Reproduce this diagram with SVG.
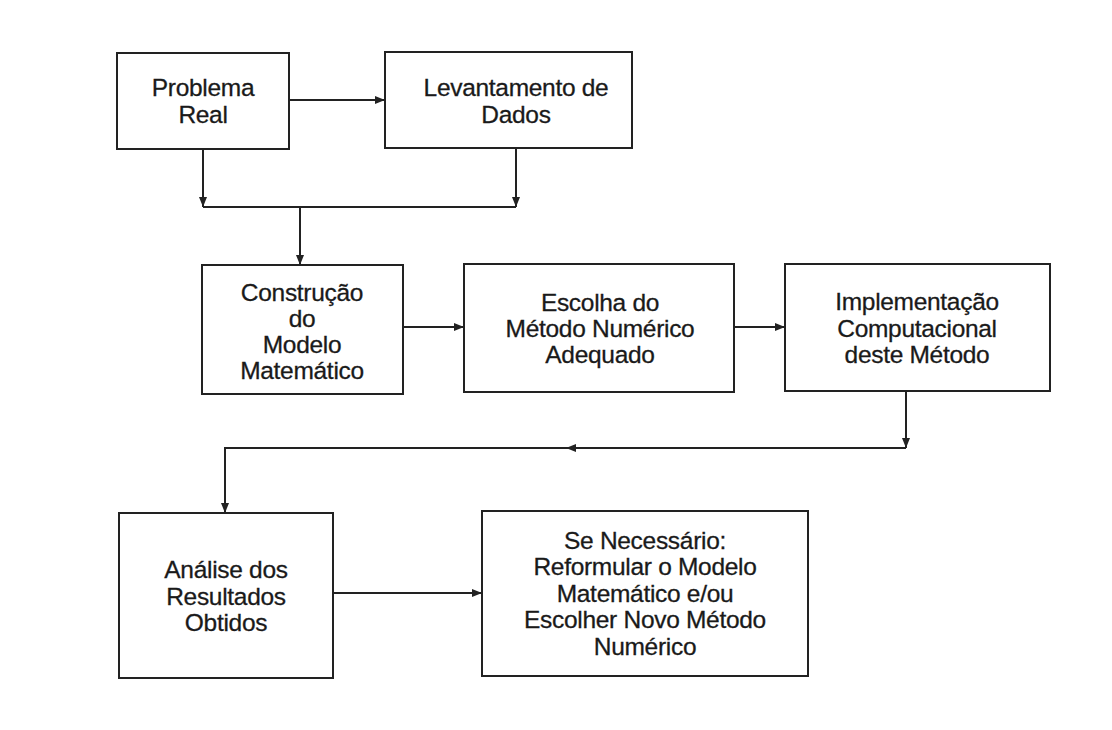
<svg xmlns="http://www.w3.org/2000/svg" width="1112" height="730" viewBox="0 0 1112 730">
<style>
.box{fill:#fff;stroke:#222;stroke-width:2}
.t{font-family:"Liberation Sans",Arial,sans-serif;font-size:24.5px;fill:#1a1a1a;text-anchor:middle;letter-spacing:-0.3px;stroke:#1a1a1a;stroke-width:0.3}
.c{fill:none;stroke:#222;stroke-width:2}
</style>
<defs>
<marker id="ah" viewBox="0 0 10 10" refX="10" refY="5" markerWidth="10" markerHeight="10" markerUnits="userSpaceOnUse" orient="auto">
<path d="M0,1 L10,5 L0,9 Z" fill="#222"/>
</marker>
</defs>
<rect width="1112" height="730" fill="#fff"/>
<g id="connectors">
<line class="c" x1="289" y1="100" x2="385" y2="100" marker-end="url(#ah)"/>
<line class="c" x1="203" y1="149" x2="203" y2="207" marker-end="url(#ah)"/>
<line class="c" x1="516" y1="148" x2="516" y2="207" marker-end="url(#ah)"/>
<line class="c" x1="203" y1="207" x2="516" y2="207"/>
<line class="c" x1="300" y1="207" x2="300" y2="265" marker-end="url(#ah)"/>
<line class="c" x1="403" y1="327" x2="464" y2="327" marker-end="url(#ah)"/>
<line class="c" x1="734" y1="327" x2="785" y2="327" marker-end="url(#ah)"/>
<line class="c" x1="906" y1="391" x2="906" y2="448" marker-end="url(#ah)"/>
<line class="c" x1="906" y1="448" x2="566" y2="448" marker-end="url(#ah)"/>
<line class="c" x1="570" y1="448" x2="225" y2="448"/>
<line class="c" x1="225" y1="447" x2="225" y2="513" marker-end="url(#ah)"/>
<line class="c" x1="333" y1="593" x2="482" y2="593" marker-end="url(#ah)"/>
</g>
<g id="n1">
<rect class="box" x="117" y="53" width="172" height="96"/>
<text class="t" x="203" y="96">Problema</text>
<text class="t" x="203" y="123">Real</text>
</g>
<g id="n2">
<rect class="box" x="385" y="52" width="247" height="96"/>
<text class="t" x="516" y="96">Levantamento de</text>
<text class="t" x="516" y="123">Dados</text>
</g>
<g id="n3">
<rect class="box" x="202" y="265" width="201" height="129"/>
<text class="t" x="302" y="301">Construção</text>
<text class="t" x="302" y="327">do</text>
<text class="t" x="302" y="353">Modelo</text>
<text class="t" x="302" y="379">Matemático</text>
</g>
<g id="n4">
<rect class="box" x="464" y="264" width="270" height="128"/>
<text class="t" x="600" y="311">Escolha do</text>
<text class="t" x="600" y="337">Método Numérico</text>
<text class="t" x="600" y="363">Adequado</text>
</g>
<g id="n5">
<rect class="box" x="785" y="264" width="265" height="127"/>
<text class="t" x="917" y="310">Implementação</text>
<text class="t" x="917" y="337">Computacional</text>
<text class="t" x="917" y="363">deste Método</text>
</g>
<g id="n6">
<rect class="box" x="119" y="513" width="214" height="165"/>
<text class="t" x="226" y="578">Análise dos</text>
<text class="t" x="226" y="605">Resultados</text>
<text class="t" x="226" y="631">Obtidos</text>
</g>
<g id="n7">
<rect class="box" x="482" y="511" width="326" height="165"/>
<text class="t" x="645" y="549">Se Necessário:</text>
<text class="t" x="645" y="575">Reformular o Modelo</text>
<text class="t" x="645" y="602">Matemático e/ou</text>
<text class="t" x="645" y="628">Escolher Novo Método</text>
<text class="t" x="645" y="655">Numérico</text>
</g>
</svg>
